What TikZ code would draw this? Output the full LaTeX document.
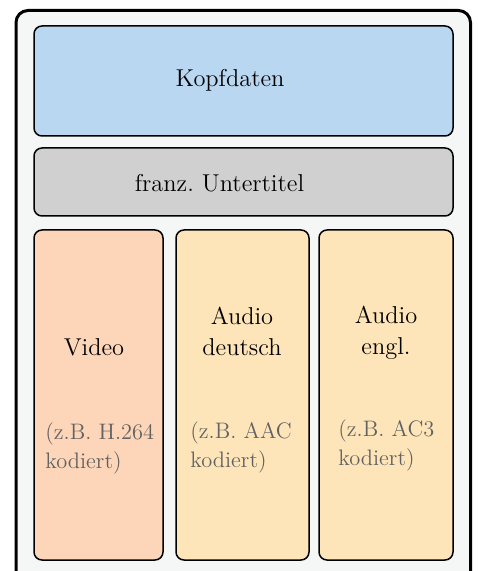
\documentclass[tikz,border=0pt]{standalone}
\usetikzlibrary{positioning}
\definecolor{outerfill}{HTML}{F5F7F7}
\definecolor{kopfblue}{HTML}{BAD7F1}
\definecolor{subgrey}{HTML}{D0D0D0}
\definecolor{videopeach}{HTML}{FDD5B8}
\definecolor{audioyellow}{HTML}{FEE5B9}
\definecolor{notegrey}{HTML}{626262}

\begin{document}
\frenchspacing
\begin{tikzpicture}[x=0.5pt, y=-0.5pt,
    box/.style = {draw, rounded corners=4pt, line width=0.75pt, inner sep=0pt, outer sep=0pt},
    col/.style = {box, minimum height=165pt},
    main/.style = {font=\fontsize{12.2}{15.5}\selectfont, align=center, inner sep=0pt},
    note/.style = {font=\fontsize{11.2}{14.5}\selectfont, text=notegrey, align=left, anchor=west, inner sep=0pt}]
    \useasboundingbox (0,0) rectangle (477,571);
    \draw[line width=1.5pt, rounded corners=6pt, fill=outerfill] (16,10.5) rectangle (470.5,590);
    % header and subtitle
    \node[box, fill=kopfblue, minimum width=209.5pt, minimum height=55pt] (kopf) at (243.5,81) {};
    \node[box, fill=subgrey, minimum width=209.5pt, minimum height=34pt, below=6pt of kopf] (sub) {};
    % streams
    \node[col, fill=videopeach, minimum width=64.5pt, anchor=north west] (video) at (34,230) {};
    \node[col, fill=audioyellow, minimum width=66.5pt, right=6.5pt of video] (deu) {};
    \node[col, fill=audioyellow, minimum width=67pt, right=5pt of deu] (eng) {};
    % texts
    \node[main] (kopftext) at (230,80) {Kopfdaten};
    \node[main] (subtext) at (219.5,183) {franz. Untertitel};
    \node[main] (videotext) at (94,347) {Video};
    \node[main] (deutext) at (242,331) {Audio\\deutsch};
    \node[main] (engtext) at (386,333) {Audio\\engl.};
    \node[note] (videonote) at (45,448) {(z.B. H.264\\kodiert)};
    \node[note] (deunote) at (190,447.5) {(z.B. AAC\\kodiert)};
    \node[note] (engnote) at (338,445.5) {(z.B. AC3\\kodiert)};
\end{tikzpicture}
\end{document}
